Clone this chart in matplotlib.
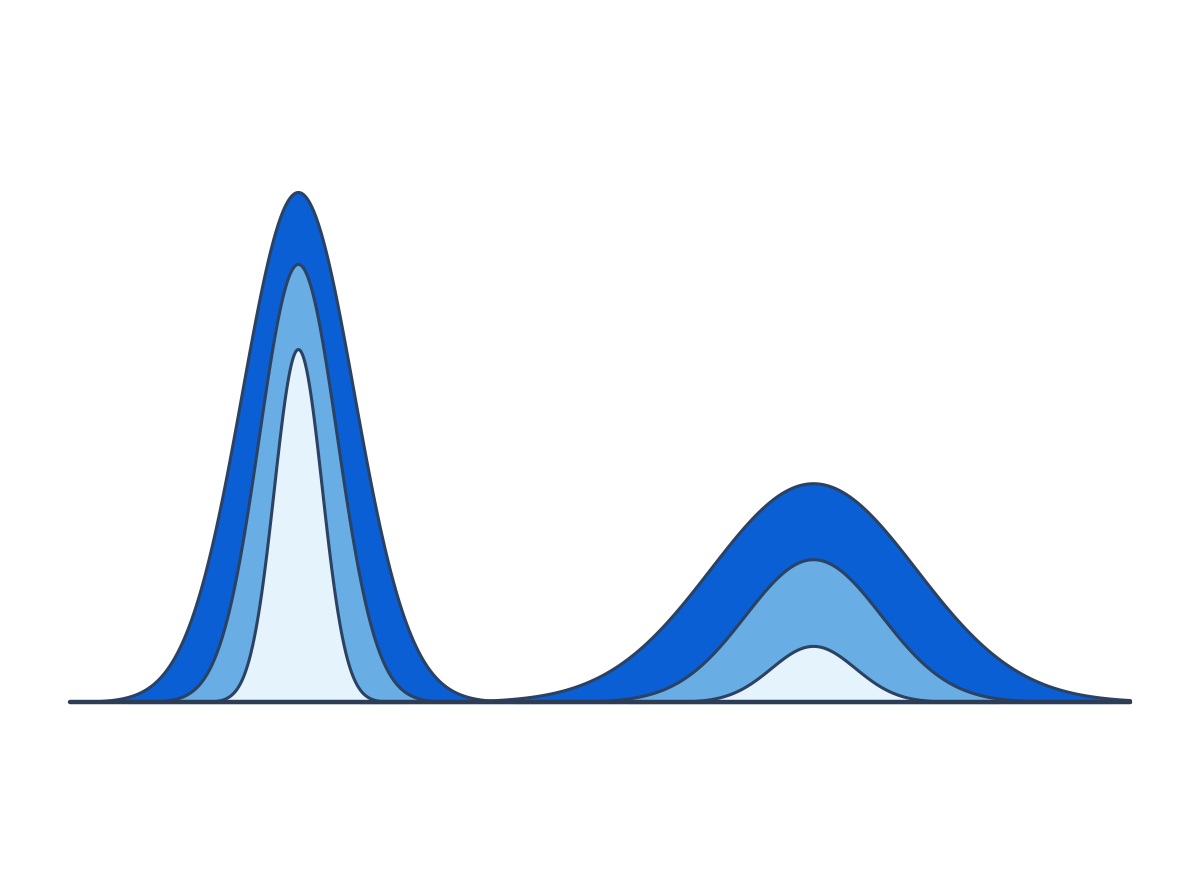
import numpy as np
import matplotlib
matplotlib.use("Agg")
import matplotlib.pyplot as plt

# ---- data ----
peak_names = ["left", "right"]
peak_centers = [21.5, 70.1]
# layer order: outer, middle, inner
layer_names = ["outer", "middle", "inner"]
left_heights = [100.0, 85.9, 69.2]
left_widths = [5.28, 3.68, 2.26]
right_heights = [42.9, 28.0, 11.0]
right_widths = [9.72, 6.42, 3.96]

layer_colors = ["#0a5fd4", "#68aee4", "#e4f3fc"]
edge_color = "#2b4262"

fig = plt.figure(figsize=(12, 8.96), dpi=100)
ax = fig.add_axes([70 / 1200, 194 / 896, 1060 / 1200, 600 / 896])
ax.set_xlim(0, 100)
ax.set_ylim(0, 600 / 5.1)
ax.axis("off")

x = np.linspace(0, 100, 4001)
for center, heights, widths in [(peak_centers[0], left_heights, left_widths),
                                (peak_centers[1], right_heights, right_widths)]:
    for h, w, c in zip(heights, widths, layer_colors):
        m = np.abs(x - center) <= 4.4 * w
        xs = x[m]
        ys = h * np.exp(-0.5 * ((xs - center) / w) ** 2)
        ax.fill_between(xs, 0, ys, facecolor=c, edgecolor=edge_color,
                        linewidth=2.2, joinstyle="round", clip_on=False)

ax.axhline(0, xmin=0, xmax=1, color="#2d3d55", linewidth=3.2,
           solid_capstyle="round", clip_on=False, zorder=5)

fig.savefig("out.png", dpi=100, facecolor="white")
